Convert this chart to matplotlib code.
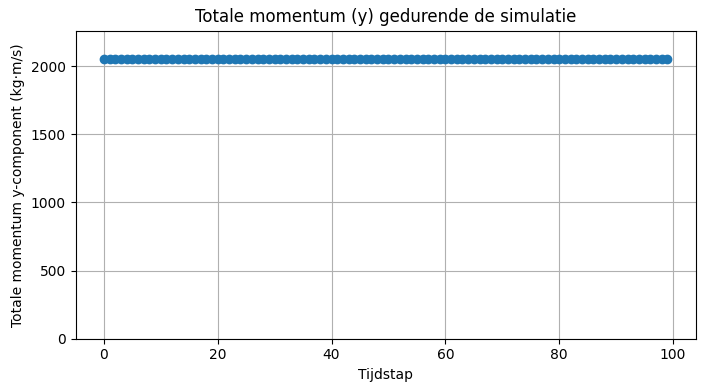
import matplotlib
matplotlib.use("Agg")
import matplotlib.pyplot as plt

# total y-momentum per time step (constant during the simulation)
tijdstappen = list(range(100))
momentum_y = [2055.0] * 100

fig = plt.figure(figsize=(7.04, 3.91), dpi=100)
ax = fig.add_axes([0.1075, 0.1338, 0.8805, 0.7877])

ax.plot(tijdstappen, momentum_y, marker='o')
ax.set_ylim(0, max(momentum_y) * 1.1)
ax.set_title('Totale momentum (y) gedurende de simulatie')
ax.set_xlabel('Tijdstap')
ax.set_ylabel('Totale momentum y-component (kg·m/s)')
ax.grid(True)

fig.savefig('out.png', dpi=100)
